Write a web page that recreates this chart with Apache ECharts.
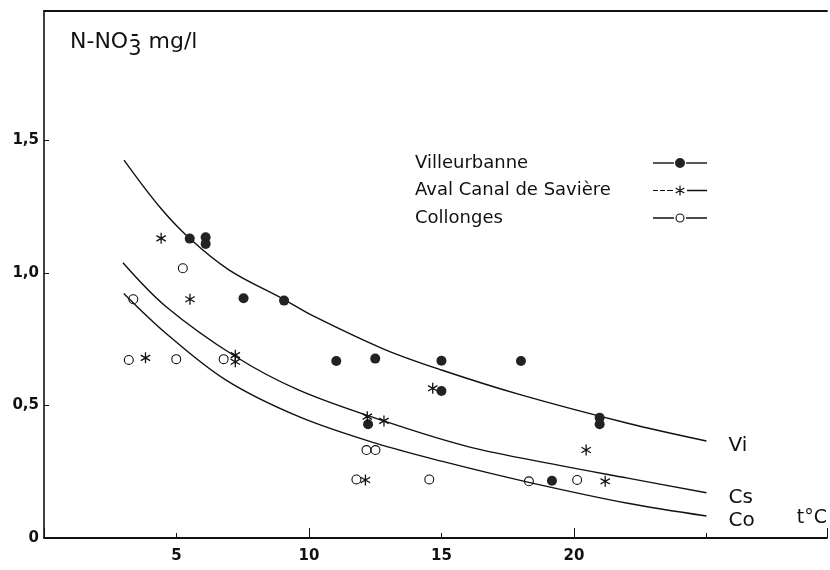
<!DOCTYPE html>
<html>
<head>
<meta charset="utf-8">
<title>N-NO3 mg/l en fonction de la température</title>
<script src="https://cdn.jsdelivr.net/npm/echarts@6.0.0/dist/echarts.min.js"></script>
<style>
  html, body { margin: 0; padding: 0; background: #ffffff; }
  #chart { width: 830px; height: 570px; }
</style>
</head>
<body>
<div id="chart"></div>
<script>
// Nitrate (N-NO3-, mg/l) measured against water temperature (°C), three stations
const villeurbanne = [
  [5.5, 1.13], [6.1, 1.135], [6.1, 1.11], [7.53, 0.905], [9.06, 0.896],
  [11.03, 0.668], [12.5, 0.677], [15.0, 0.669], [18.0, 0.668], [15.0, 0.555],
  [12.23, 0.429], [20.97, 0.454], [20.97, 0.429], [19.17, 0.216]
];
const saviere = [
  [4.42, 1.131], [5.51, 0.901], [3.83, 0.68], [7.22, 0.69], [7.22, 0.665],
  [14.67, 0.565], [12.2, 0.458], [12.83, 0.442], [20.46, 0.332], [12.13, 0.219],
  [21.18, 0.214]
];
const collonges = [
  [3.37, 0.901], [5.24, 1.018], [3.2, 0.672], [4.99, 0.675], [6.78, 0.675],
  [12.17, 0.332], [12.51, 0.332], [11.79, 0.221], [14.54, 0.221], [18.3, 0.214],
  [20.12, 0.219]
];

// Adjustment curves for each station
const curveVi = [
  [3.02, 1.426], [4.36, 1.25], [5.49, 1.131], [6.99, 1.011],
  [9.06, 0.9], [10.12, 0.84], [12.82, 0.713], [15, 0.634],
  [18, 0.54], [22.03, 0.433], [25, 0.366]
];
const curveCs = [
  [2.98, 1.039], [4.61, 0.873], [7.24, 0.684], [9.62, 0.558],
  [12.88, 0.44], [16, 0.345], [19.4, 0.275], [22.03, 0.226], [25, 0.171]
];
const curveCo = [
  [3.01, 0.923], [4.61, 0.772], [6.87, 0.596], [9.62, 0.458], [12.51, 0.358],
  [15, 0.29], [18.3, 0.21], [22.03, 0.131], [25, 0.083]
];

// Tick labels
const xTickLabels = [5, 10, 15, 20];
const yTickLabels = { 0: '0', 1: '0,5', 2: '1,0', 3: '1,5' };

const INK = '#111111';
const FONT = 'DejaVu Sans';

// Symbols: asterisk (three crossed bars) and open ring
const asteriskPath = 'M26.4,1h1.2v10h-1.2z M22.35,4.03L22.95,2.99L31.65,7.97L31.05,9.01Z M22.95,9.01L22.35,7.97L31.05,2.99L31.65,4.03Z';
const ringPath = 'M0,5a5,5 0 1,1 10,0a5,5 0 1,1 -10,0z M1.1,5a3.9,3.9 0 1,0 7.8,0a3.9,3.9 0 1,0 -7.8,0z';

// Legend keys: line - symbol - line
const iconVi = 'path://M0,5.3h21v1.4h-21z M22,6a5,5 0 1,1 10,0a5,5 0 1,1 -10,0z M33,5.3h21v1.4h-21z';
const iconCs = 'path://M0,5.5h5v1h-5z M7,5.5h5v1h-5z M14,5.4h6v1.2h-6z ' + asteriskPath + ' M34,5.3h20v1.4h-20z';
const iconCo = 'path://M0,5.3h21v1.4h-21z M22.5,6a4.5,4.5 0 1,1 9,0a4.5,4.5 0 1,1 -9,0z M23.6,6a3.4,3.4 0 1,0 6.8,0a3.4,3.4 0 1,0 -6.8,0z M33,5.3h21v1.4h-21z';

const X_MAX = 29.55;
const Y_MAX = 1.989;

function curveSeries(name, data) {
  return {
    name: name,
    type: 'line',
    data: data,
    smooth: 0.35,
    showSymbol: false,
    symbol: 'none',
    silent: true,
    lineStyle: { color: INK, width: 1.4 },
    endLabel: {
      show: true,
      formatter: p => p.seriesName,
      distance: 22,
      offset: [0, 5],
      fontFamily: FONT,
      fontSize: 20,
      color: INK
    },
    z: 2
  };
}

const chart = echarts.init(document.getElementById('chart'), null, { renderer: 'canvas' });

chart.setOption({
  animation: false,
  backgroundColor: '#ffffff',
  grid: { left: 44, right: 0, top: 11, bottom: 32 },
  legend: {
    orient: 'vertical',
    left: 415,
    top: 154,
    padding: 0,
    align: 'right',
    itemWidth: 54,
    itemHeight: 10,
    itemGap: 9.5,
    selectedMode: false,
    formatter: name => '{t|' + name + '}',
    textStyle: {
      fontFamily: FONT, fontSize: 18, color: INK, lineHeight: 18,
      rich: { t: { fontFamily: FONT, fontSize: 18, color: INK, lineHeight: 18, width: 233, align: 'left' } }
    },
    data: [
      { name: 'Villeurbanne', icon: iconVi },
      { name: 'Aval Canal de Savière', icon: iconCs },
      { name: 'Collonges', icon: iconCo }
    ]
  },
  graphic: [
    {
      // charge sign above the index of NO3
      type: 'text',
      left: 131,
      top: 28,
      silent: true,
      style: { text: '\u2013', fontFamily: FONT, fontSize: 15, fontWeight: 'bold', fill: INK }
    }
  ],
  xAxis: [
    {
      type: 'value',
      position: 'bottom',
      min: 0,
      max: X_MAX,
      interval: 5,
      name: 't°C',
      nameLocation: 'end',
      nameGap: 0,
      nameTextStyle: {
        fontFamily: FONT, fontSize: 19, color: INK,
        align: 'right', verticalAlign: 'bottom', padding: [0, 0, 10, 0]
      },
      axisLine: { show: true, onZero: false, lineStyle: { color: INK, width: 1.8 } },
      axisTick: { show: true, inside: true, length: 5, lineStyle: { color: INK, width: 1 } },
      axisLabel: {
        margin: 11,
        fontFamily: FONT, fontSize: 15, fontWeight: 'bold', color: INK,
        showMinLabel: true, showMaxLabel: false,
        formatter: v => (xTickLabels.indexOf(v) >= 0 ? String(v) : '')
      },
      splitLine: { show: false }
    },
    {
      // longer marks at every 10 °C
      type: 'value',
      position: 'bottom',
      min: 0,
      max: X_MAX,
      interval: 10,
      axisLine: { show: false, onZero: false },
      axisTick: { show: true, inside: true, length: 10, lineStyle: { color: INK, width: 1 } },
      axisLabel: { show: false },
      splitLine: { show: false }
    },
    {
      // upper frame edge
      type: 'value',
      position: 'top',
      min: 0,
      max: X_MAX,
      axisLine: { show: true, onZero: false, lineStyle: { color: INK, width: 1.8 } },
      axisTick: { show: false },
      axisLabel: { show: false },
      splitLine: { show: false }
    }
  ],
  yAxis: {
    type: 'value',
    min: 0,
    max: Y_MAX,
    interval: 0.5,
    name: '{a|N-NO}{s|3}{a| mg/l}',
    nameLocation: 'end',
    nameGap: -46,
    nameTextStyle: {
      align: 'left',
      verticalAlign: 'bottom',
      padding: [0, 0, 0, 26],
      rich: {
        a: { fontFamily: FONT, fontSize: 22, color: INK, lineHeight: 26, verticalAlign: 'top' },
        s: { fontFamily: FONT, fontSize: 21, color: INK, lineHeight: 26, verticalAlign: 'top', padding: [8, 0, 0, 0] }
      }
    },
    axisLine: { show: true, onZero: false, lineStyle: { color: INK, width: 1.6 } },
    axisTick: { show: true, inside: true, length: 5, lineStyle: { color: INK, width: 1 } },
    axisLabel: {
      margin: 5,
      fontFamily: FONT, fontSize: 15, fontWeight: 'bold', color: INK,
      showMaxLabel: false,
      formatter: v => {
        const k = Math.round(v * 2);
        if (Math.abs(v * 2 - k) > 1e-6) return '';
        return yTickLabels[k] !== undefined ? yTickLabels[k] : '';
      }
    },
    splitLine: { show: false }
  },
  series: [
    curveSeries('Vi', curveVi),
    curveSeries('Cs', curveCs),
    curveSeries('Co', curveCo),
    {
      name: 'Villeurbanne',
      type: 'scatter',
      data: villeurbanne,
      symbol: 'circle',
      symbolSize: 10,
      itemStyle: { color: '#222222', opacity: 1 },
      z: 3
    },
    {
      name: 'Aval Canal de Savière',
      type: 'scatter',
      data: saviere,
      symbol: 'path://' + asteriskPath,
      symbolSize: [10, 11],
      itemStyle: { color: INK, opacity: 1 },
      z: 3
    },
    {
      name: 'Collonges',
      type: 'scatter',
      data: collonges,
      symbol: 'path://' + ringPath,
      symbolSize: 10,
      itemStyle: { color: INK, opacity: 1 },
      z: 3
    }
  ]
});
</script>
</body>
</html>
